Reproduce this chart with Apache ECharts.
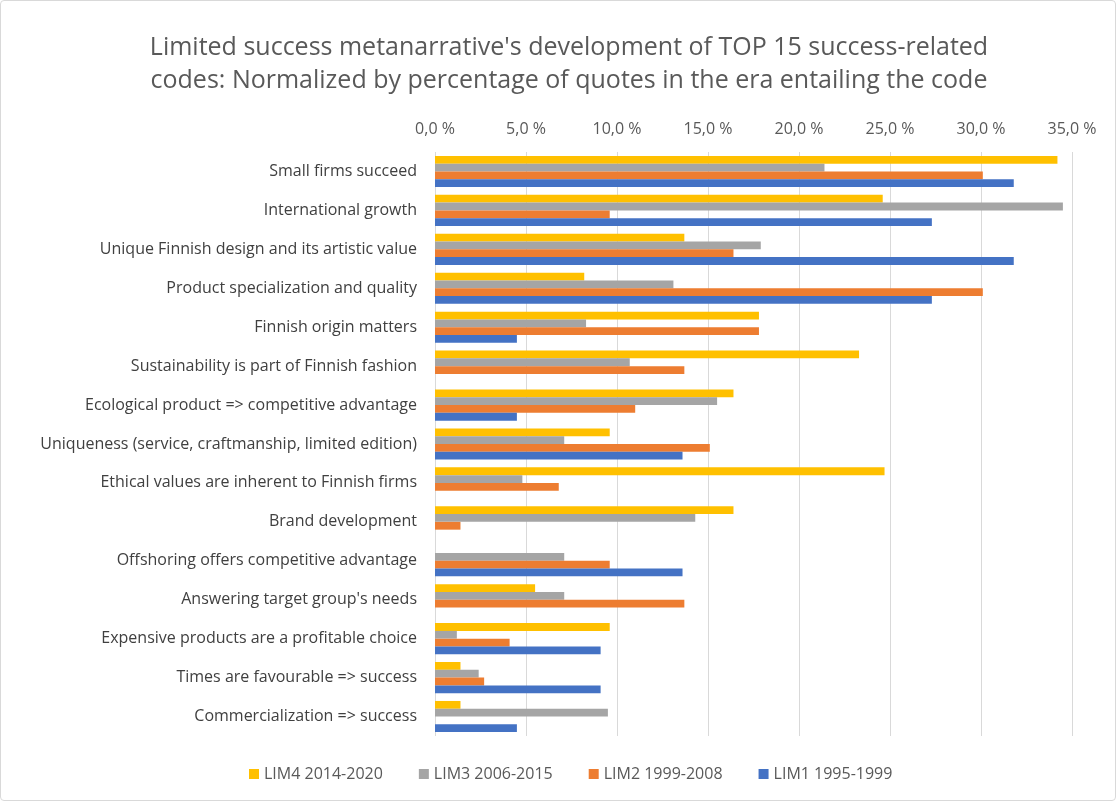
<!DOCTYPE html>
<html lang="en" style="height: 100%">

<head>
  <meta charset="utf-8" />
</head>

<body style="height: 100%; margin: 0; background: #fff">
  <div id="container" style="width: 1114px; height: 799px; border: 1px solid #d9d9d9; border-radius: 4px"></div>

  <script src="https://fastly.jsdelivr.net/npm/echarts@6/dist/echarts.min.js"></script>

  <script type="text/javascript">
    // codes, top to bottom
    var categories = [
      "Small firms succeed",
      "International growth",
      "Unique Finnish design and its artistic value",
      "Product specialization and quality",
      "Finnish origin matters",
      "Sustainability is part of Finnish fashion",
      "Ecological product => competitive advantage",
      "Uniqueness (service, craftmanship, limited edition)",
      "Ethical values are inherent to Finnish firms",
      "Brand development",
      "Offshoring offers competitive advantage",
      "Answering target group's needs",
      "Expensive products are a profitable choice",
      "Times are favourable => success",
      "Commercialization => success"
    ];

    // percentages (null = no bar)
    var lim4 = [34.2, 24.6, 13.7, 8.2, 17.8, 23.3, 16.4, 9.6, 24.7, 16.4, null, 5.5, 9.6, 1.4, 1.4];
    var lim3 = [21.4, 34.5, 17.9, 13.1, 8.3, 10.7, 15.5, 7.1, 4.8, 14.3, 7.1, 7.1, 1.2, 2.4, 9.5];
    var lim2 = [30.1, 9.6, 16.4, 30.1, 17.8, 13.7, 11.0, 15.1, 6.8, 1.4, 9.6, 13.7, 4.1, 2.7, null];
    var lim1 = [31.8, 27.3, 31.8, 27.3, 4.5, null, 4.5, 13.6, null, null, 13.6, null, 9.1, 9.1, 4.5];

    var seriesNames = ["LIM4 2014-2020", "LIM3 2006-2015", "LIM2 1999-2008", "LIM1 1995-1999"];
    var seriesData = [lim4, lim3, lim2, lim1];
    var colors = ["#ffc000", "#a5a5a5", "#ed7d31", "#4472c4"];

    var dom = document.getElementById("container");
    var myChart = echarts.init(dom, null, { renderer: "canvas" });

    var font = "'Open Sans', sans-serif";

    var option = {
      animation: false,
      textStyle: { fontFamily: font },
      title: {
        text: "Limited success metanarrative's development of TOP 15 success-related\ncodes: Normalized by percentage of quotes in the era entailing the code",
        left: 563,
        top: 25,
        textAlign: "center",
        textStyle: {
          fontFamily: font,
          fontSize: 25,
          fontWeight: "normal",
          color: "#595959",
          lineHeight: 33
        }
      },
      legend: {
        bottom: 13,
        left: 243,
        itemWidth: 10,
        itemHeight: 10,
        itemGap: 36,
        icon: "rect",
        textStyle: { fontSize: 16, color: "#595959", fontFamily: font },
        data: seriesNames
      },
      grid: {
        left: 434,
        right: 43,
        top: 151,
        bottom: 64,
        containLabel: false
      },
      xAxis: {
        type: "value",
        position: "top",
        min: 0,
        max: 35,
        interval: 5,
        axisLine: { show: false },
        axisTick: { show: false },
        axisLabel: {
          color: "#595959",
          fontSize: 16,
          margin: 15,
          formatter: function (v) {
            return v.toFixed(1).replace(".", ",") + " %";
          }
        },
        splitLine: { lineStyle: { color: "#d9d9d9", width: 1 } }
      },
      yAxis: {
        type: "category",
        inverse: true,
        data: categories,
        axisLine: { show: false },
        axisTick: { show: false },
        axisLabel: { color: "#404040", fontSize: 16, margin: 18 }
      },
      series: seriesNames.map(function (name, i) {
        return {
          name: name,
          type: "bar",
          data: seriesData[i],
          barGap: "0%",
          barCategoryGap: "20%",
          itemStyle: { color: colors[i] }
        };
      })
    };

    myChart.setOption(option);
    window.addEventListener("resize", myChart.resize);
  </script>
</body>

</html>
